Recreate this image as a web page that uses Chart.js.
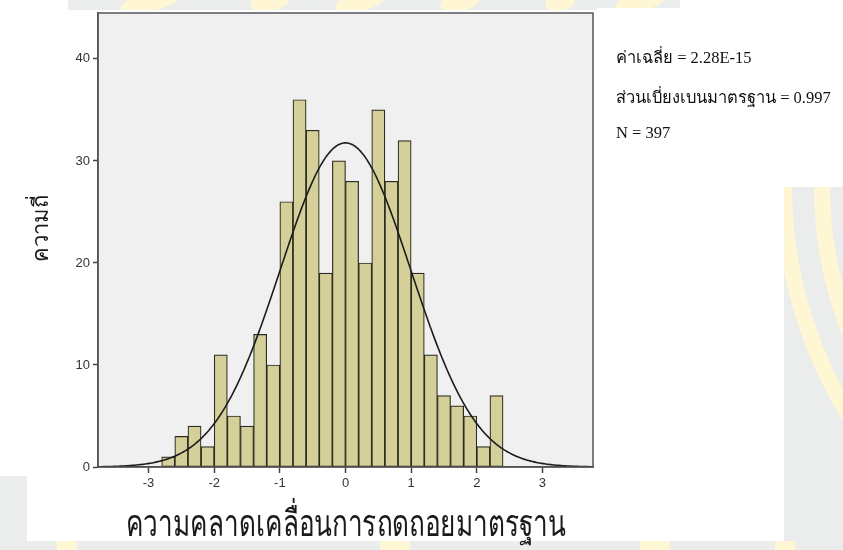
<!DOCTYPE html>
<html>
<head>
<meta charset="utf-8">
<script src="https://cdn.jsdelivr.net/npm/chart.js@4.4.1/dist/chart.umd.min.js"></script>
<style>
  html, body { margin: 0; padding: 0; background: #ffffff; }
  #wrap { position: relative; width: 843px; height: 550px; }
</style>
</head>
<body>
<div id="wrap"><canvas id="hist"></canvas></div>
<script>
// Standardized regression residuals: bin lower edges (width 0.2) and counts
const binStarts = [-2.8, -2.6, -2.4, -2.2, -2.0, -1.8, -1.6, -1.4, -1.2, -1.0, -0.8, -0.6, -0.4,
                   -0.2, 0.0, 0.2, 0.4, 0.6, 0.8, 1.0, 1.2, 1.4, 1.6, 1.8, 2.0, 2.2];
const counts = [1, 3, 4, 2, 11, 5, 4, 13, 10, 26, 36, 33, 19,
                30, 28, 20, 35, 28, 32, 19, 11, 7, 6, 5, 2, 7];
const binWidth = 0.2;

// Axis ticks
const xTicks = [-3, -2, -1, 0, 1, 2, 3];
const yTicks = [0, 10, 20, 30, 40];

// Summary statistics printed beside the plot (also define the normal curve)
const mean = 2.28e-15;
const sd = 0.997;
const n = 397;

// Text
const xTitle = 'ความคลาดเคลื่อนการถดถอยมาตรฐาน';
const yTitle = 'ความถี่';
const statNames = ['ค่าเฉลี่ย', 'ส่วนเบี่ยงเบนมาตรฐาน', 'N'];

const X_MIN = -3.77, X_MAX = 3.77, Y_MAX = 44.5;

// Histogram bars, placed at bin centres
const barPoints = binStarts.map((s, i) => ({ x: +(s + binWidth / 2).toFixed(2), y: counts[i] }));

// Fitted normal curve scaled to counts per bin
const curvePoints = [];
for (let k = 0; k <= 377; k++) {
  const x = X_MIN + k * 0.02;
  const z = (x - mean) / sd;
  curvePoints.push({ x, y: n * binWidth / (sd * Math.sqrt(2 * Math.PI)) * Math.exp(-0.5 * z * z) });
}

const tickFont = { family: '"Liberation Sans Narrow", "Liberation Sans", Arial, sans-serif', size: 13 };
const thaiFont = '"Noto Sans", "DejaVu Sans", sans-serif';

// Page backdrop: light grey panels with soft yellow bands around the white figure
const backdrop = {
  id: 'backdrop',
  beforeDraw(chart) {
    const ctx = chart.ctx;
    ctx.save();
    ctx.fillStyle = '#ebecec';
    ctx.fillRect(0, 0, 843, 550);
    ctx.strokeStyle = '#fff7d4';
    ctx.lineWidth = 16;
    [433, 395].forEach(r => {
      ctx.beginPath();
      ctx.arc(1217, 187, r, Math.PI * 0.5, Math.PI * 1.5);
      ctx.stroke();
    });
    ctx.fillStyle = '#fff7d4';
    [[150, 60], [270, 40], [360, 50], [460, 40], [560, 30], [640, 50]].forEach(([x, w]) => {
      ctx.beginPath();
      ctx.ellipse(x, 2, w / 2, 9, -0.2, 0, Math.PI * 2);
      ctx.fill();
    });
    [[57, 20], [380, 30], [640, 30], [775, 20]].forEach(([x, w]) => {
      ctx.fillRect(x, 541, w, 9);
    });
    ctx.fillStyle = '#ffffff';
    ctx.fillRect(0, 0, 68, 10);
    ctx.fillRect(0, 0, 27, 476);
    ctx.fillRect(27, 10, 757, 531);
    ctx.fillRect(597, 8, 246, 179);
    ctx.fillRect(680, 0, 163, 8);
    // plot panel
    const a = chart.chartArea;
    ctx.fillStyle = '#f0f0f0';
    ctx.fillRect(a.left, a.top, a.right - a.left, a.bottom - a.top);
    ctx.restore();
  }
};

// Frame around the plot panel
const frame = {
  id: 'frame',
  afterDatasetsDraw(chart) {
    const a = chart.chartArea, ctx = chart.ctx;
    ctx.save();
    ctx.strokeStyle = '#555555';
    ctx.lineWidth = 1.5;
    ctx.strokeRect(a.left, a.top, a.right - a.left, a.bottom - a.top);
    ctx.restore();
  }
};

// Axis titles (condensed to the width of the plot labels)
const axisTitles = {
  id: 'axisTitles',
  afterDraw(chart) {
    const ctx = chart.ctx, a = chart.chartArea;
    ctx.save();
    ctx.fillStyle = '#1a1a1a';
    ctx.textAlign = 'center';
    ctx.textBaseline = 'alphabetic';
    ctx.font = '37px ' + thaiFont;
    ctx.fillText(xTitle, (a.left + a.right) / 2, 536, 440);
    ctx.translate(48, 228);
    ctx.rotate(-Math.PI / 2);
    ctx.font = '22px ' + thaiFont;
    ctx.fillText(yTitle, 0, 0);
    ctx.restore();
  }
};

// Statistics block to the right of the plot
const statsBox = {
  id: 'statsBox',
  afterDraw(chart) {
    const ctx = chart.ctx;
    const values = [mean.toExponential(2).toUpperCase(), sd.toString(), n.toString()];
    const baselines = [63, 103, 138];
    ctx.save();
    ctx.fillStyle = '#111111';
    ctx.font = '16.5px "Liberation Serif", "Times New Roman", serif';
    ctx.textBaseline = 'alphabetic';
    statNames.forEach((name, i) => {
      ctx.fillText(name + ' = ' + values[i], 616, baselines[i]);
    });
    ctx.restore();
  }
};

new Chart(document.getElementById('hist'), {
  data: {
    datasets: [
      {
        type: 'line',
        data: curvePoints,
        borderColor: '#1c1c1c',
        borderWidth: 1.6,
        pointRadius: 0,
        tension: 0,
        order: 0
      },
      {
        type: 'bar',
        data: barPoints,
        backgroundColor: '#d5d09a',
        borderColor: '#2b2b20',
        borderWidth: 1.2,
        borderSkipped: false,
        barPercentage: 1,
        categoryPercentage: 1,
        order: 1
      }
    ]
  },
  options: {
    responsive: true,
    maintainAspectRatio: false,
    animation: false,
    events: [],
    layout: { padding: { left: 0, top: 13, right: 250, bottom: 0 } },
    plugins: { legend: { display: false }, tooltip: { enabled: false } },
    scales: {
      x: {
        type: 'linear',
        offset: false,
        min: X_MIN,
        max: X_MAX,
        afterBuildTicks: s => { s.ticks = xTicks.map(v => ({ value: v })); },
        afterFit: s => { s.height = 83; },
        ticks: { color: '#333333', font: tickFont, padding: 3, maxRotation: 0, autoSkip: false },
        grid: { offset: false, drawOnChartArea: false, drawTicks: true, tickLength: 6, tickColor: '#444444', tickWidth: 1.5 },
        border: { display: true, color: '#444444', width: 1.5 }
      },
      y: {
        type: 'linear',
        min: 0,
        max: Y_MAX,
        afterBuildTicks: s => { s.ticks = yTicks.map(v => ({ value: v })); },
        afterFit: s => { s.width = 98; },
        ticks: { color: '#333333', font: tickFont, padding: 3 },
        grid: { drawOnChartArea: false, drawTicks: true, tickLength: 5, tickColor: '#444444', tickWidth: 1.5 },
        border: { display: true, color: '#444444', width: 1.5 }
      }
    }
  },
  plugins: [backdrop, frame, axisTitles, statsBox]
});
</script>
</body>
</html>
